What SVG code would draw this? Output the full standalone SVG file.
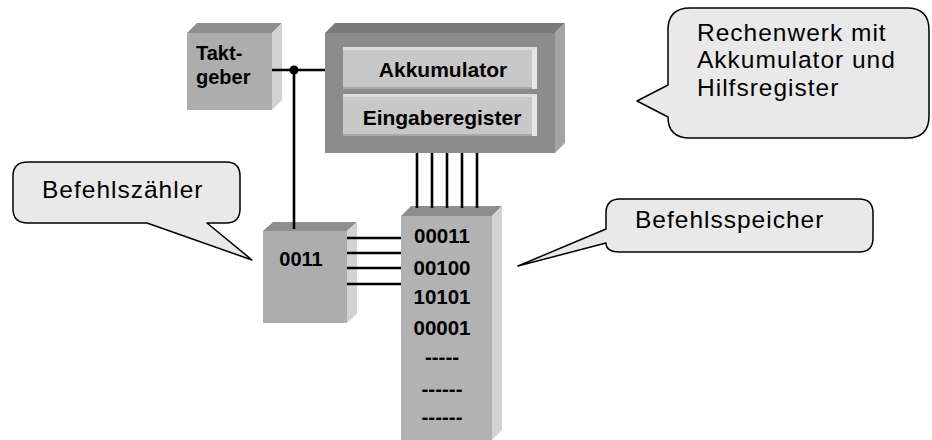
<svg xmlns="http://www.w3.org/2000/svg" width="932" height="440" viewBox="0 0 932 440">
  <style>
    .front { fill: #adadad; }
    .top { fill: #8e8e8e; }
    .side { fill: #d3d3d3; }
    .outer-front { fill: #8c8c8c; }
    .outer-top { fill: #7a7a7a; }
    .outer-side { fill: #a4a4a4; }
    .reg { fill: #c8c8c8; }
    .reg-hi { fill: #dcdcdc; }
    .reg-side { fill: #e6e6e6; }
    .reg-lo { fill: #a8a8a8; }
    .label { font-family: "Liberation Sans", Arial, sans-serif; font-weight: bold; font-size: 20px; fill: #000; }
    .callout { fill: #e9e9e9; stroke: #000; stroke-width: 1.5; stroke-linejoin: round; }
    .callout-text { font-family: "Liberation Sans", Arial, sans-serif; font-size: 24.5px; letter-spacing: 1px; fill: #000; }
    .wire { stroke: #000; stroke-width: 2.6; fill: none; }
  </style>

  <!-- clock -->
  <g id="taktgeber">
    <polygon class="top" points="187,33 197,23 282,23 272,33"/>
    <polygon class="side" points="272,33 282,23 282,100 272,110"/>
    <rect class="front" x="187" y="33" width="85" height="77"/>
    <text class="label" x="196" y="60">Takt-<tspan x="196" dy="24">geber</tspan></text>
  </g>

  <!-- arithmetic unit with its two registers -->
  <g id="rechenwerk">
    <polygon class="outer-top" points="325,33 335,23 565,23 555,33"/>
    <polygon class="outer-side" points="555,33 565,23 565,143 555,153"/>
    <rect class="outer-front" x="325" y="33" width="230" height="120"/>
    <g id="akkumulator">
      <rect class="reg" x="343" y="47" width="194" height="42"/>
      <polygon class="reg-hi" points="343,47 537,47 533,50 343,50"/>
      <polygon class="reg-side" points="532,50 537,47 537,89 532,89"/>
      <rect class="reg-lo" x="343" y="87" width="189" height="2"/>
      <text class="label" x="443" y="77" text-anchor="middle" style="font-size:21px">Akkumulator</text>
    </g>
    <g id="eingaberegister">
      <rect class="reg" x="343" y="94" width="194" height="42"/>
      <polygon class="reg-hi" points="343,94 537,94 533,97 343,97"/>
      <polygon class="reg-side" points="532,97 537,94 537,136 532,136"/>
      <rect class="reg-lo" x="343" y="134" width="189" height="2"/>
      <text class="label" x="442" y="125" text-anchor="middle" style="font-size:21px">Eingaberegister</text>
    </g>
  </g>

  <!-- program counter -->
  <g id="befehlszaehler">
    <polygon class="top" points="263,231 273,222 357,222 347,231"/>
    <polygon class="side" points="347,231 357,222 357,314 347,323"/>
    <rect class="front" x="263" y="231" width="84" height="92"/>
    <text class="label" x="301" y="266" text-anchor="middle">0011</text>
  </g>

  <!-- instruction memory -->
  <g id="befehlsspeicher">
    <polygon class="top" points="401,216 411,206 502,206 492,216"/>
    <polygon class="side" points="492,216 502,206 502,430 492,440"/>
    <rect class="front" x="401" y="216" width="91" height="230" style="fill:#b2b2b2"/>
    <text class="label" style="font-size:20.5px" text-anchor="middle" x="442" y="243">00011<tspan x="442" dy="32">00100</tspan><tspan x="442" dy="29">10101</tspan><tspan x="442" dy="31">00001</tspan><tspan x="442" dy="29">-----</tspan><tspan x="442" dy="32">------</tspan><tspan x="442" dy="28">------</tspan></text>
  </g>

  <!-- wires and buses -->
  <g id="connectors">
    <line class="wire" x1="272" y1="70" x2="325" y2="70"/>
    <line class="wire" x1="294" y1="70" x2="294" y2="229"/>
    <circle cx="294" cy="70" r="4.6" fill="#000"/>
    <line class="wire" x1="417" y1="153" x2="417" y2="208"/>
    <line class="wire" x1="432" y1="153" x2="432" y2="208"/>
    <line class="wire" x1="447" y1="153" x2="447" y2="208"/>
    <line class="wire" x1="462" y1="153" x2="462" y2="208"/>
    <line class="wire" x1="477" y1="153" x2="477" y2="208"/>
    <line class="wire" x1="347" y1="238" x2="401" y2="238"/>
    <line class="wire" x1="347" y1="253" x2="401" y2="253"/>
    <line class="wire" x1="347" y1="268" x2="401" y2="268"/>
    <line class="wire" x1="347" y1="284" x2="401" y2="284"/>
  </g>

  <!-- callouts -->
  <g id="callout-rechenwerk">
    <path class="callout" d="M 690,8 H 907 Q 929,8 929,30 V 116 Q 929,138 907,138 H 690 Q 668,138 668,117 L 637,101 L 668,85 V 30 Q 668,8 690,8 Z"/>
    <text class="callout-text" x="697" y="40.5">Rechenwerk mit<tspan x="697" dy="27.5">Akkumulator und</tspan><tspan x="697" dy="27.5">Hilfsregister</tspan></text>
  </g>
  <g id="callout-befehlszaehler">
    <path class="callout" d="M 28,162 H 226 Q 240,162 240,176 V 209 Q 240,223 226,223 H 207 L 252,260 L 147,223 H 28 Q 13,223 13,209 V 176 Q 13,162 28,162 Z"/>
    <text class="callout-text" x="42" y="198">Befehlszähler</text>
  </g>
  <g id="callout-befehlsspeicher">
    <path class="callout" d="M 620,199 H 859 Q 873,199 873,213 V 238 Q 873,252 859,252 H 620 Q 606,252 606,243 L 518,266 L 606,229 V 213 Q 606,199 620,199 Z"/>
    <text class="callout-text" x="635" y="228">Befehlsspeicher</text>
  </g>
</svg>
